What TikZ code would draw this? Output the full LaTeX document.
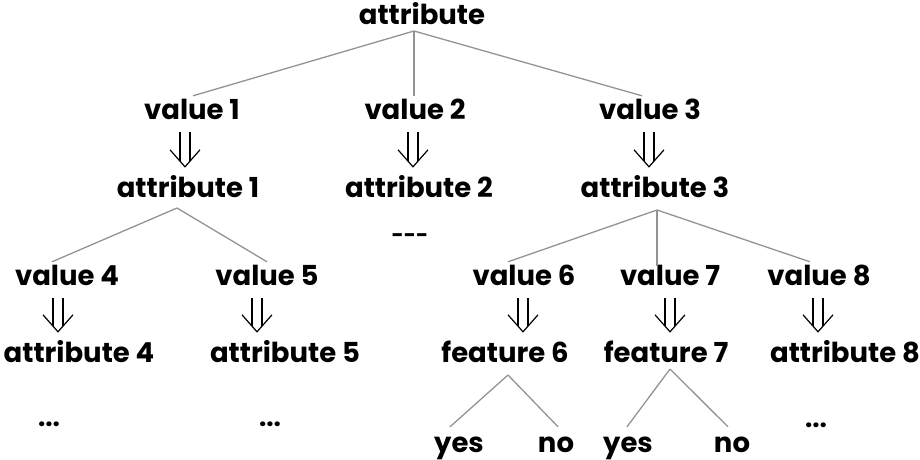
\documentclass[tikz,border=0pt]{standalone}
\usepackage{fontspec}
\setmainfont{Poppins}
\begin{document}
\begin{tikzpicture}[x=1pt,y=-1pt,
  lbl/.style={inner sep=0pt,anchor=base,text height=19pt,text depth=0pt,
    font=\fontsize{27.5}{30}\selectfont\bfseries},
  dots/.style={inner sep=0pt,font=\fontsize{26}{30}\selectfont\bfseries},
  dashes/.style={inner sep=0pt,font=\fontsize{21}{24}\selectfont\bfseries},
  branch/.style={draw=gray!85,line width=1.3pt},
  imp/.style={draw=black,line width=1.2pt}]
\useasboundingbox (0,0) rectangle (920,460);

% double-shafted downward arrow from one node to the next
\newcommand\dnimp[3]{%
  \coordinate (imp-t) at ([xshift=#1pt,yshift=-13pt]#2.south);
  \coordinate (imp-b0) at (imp-t |- #3.north);
  \coordinate (imp-b) at ([yshift=11pt]imp-b0);
  \draw[imp] ([xshift=-5pt]imp-t) -- ([xshift=-5pt,yshift=5.7pt]imp-b);
  \draw[imp] ([xshift=5pt]imp-t) -- ([xshift=5pt,yshift=5.7pt]imp-b);
  \draw[imp,line join=miter] ([xshift=-15pt,yshift=17pt]imp-b) -- (imp-b) -- ([xshift=15pt,yshift=17pt]imp-b);
}

% nodes
\node[lbl] (root) at (422,25) {attribute};
\node[lbl] (v1) at (192,119) {value 1};
\node[lbl] (v2) at (415,119) {value 2};
\node[lbl] (v3) at (650,119) {value 3};
\node[lbl] (a1) at (188,197) {attribute 1};
\node[lbl] (a2) at (419,197) {attribute 2};
\node[lbl] (a3) at (655,197) {attribute 3};
\node[dashes] (gap) at (410,238) {-{}-{}-};
\node[lbl] (v4) at (67,285) {value 4};
\node[lbl] (v5) at (267,285) {value 5};
\node[lbl] (v6) at (524,285) {value 6};
\node[lbl] (v7) at (670,285) {value 7};
\node[lbl] (v8) at (819,285) {value 8};
\node[lbl] (a4) at (79,362) {attribute 4};
\node[lbl] (a5) at (285,362) {attribute 5};
\node[lbl] (f6) at (505,362) {feature 6};
\node[lbl] (f7) at (666,362) {feature 7};
\node[lbl] (a8) at (845,362) {attribute 8};
\node[dots] (d4) at (49,424) {...};
\node[dots] (d5) at (270,424) {...};
\node[dots] (d8) at (816,425) {...};
\node[lbl] (y6) at (459,452) {yes};
\node[lbl] (n6) at (556,452) {no};
\node[lbl] (y7) at (628,452) {yes};
\node[lbl] (n7) at (732,452) {no};

% branch points
\coordinate (j0) at (414,31);
\coordinate (j1) at (177,208);
\coordinate (j3) at (657,210);
\coordinate (j6) at (508,375);
\coordinate (j7) at (670,369);

% branches
\draw[branch] (j0) -- ([xshift=1pt,yshift=4pt]v1.north);
\draw[branch] (j0) -- ([xshift=-1pt,yshift=4pt]v2.north);
\draw[branch] (j0) -- ([xshift=-8pt,yshift=4pt]v3.north);
\draw[branch] (j1) -- ([xshift=-15pt,yshift=4pt]v4.north);
\draw[branch] (j1) -- ([yshift=4pt]v5.north);
\draw[branch] (j3) -- ([xshift=-16pt,yshift=4pt]v6.north);
\draw[branch] (j3) -- (j3 |- v7.north) -- +(0,-4);
\draw[branch] (j3) -- ([xshift=-9pt,yshift=4pt]v8.north);
\draw[branch] (j6) -- ([xshift=-9pt,yshift=6pt]y6.north);
\draw[branch] (j6) -- ([xshift=2pt,yshift=6pt]n6.north);
\draw[branch] (j7) -- ([xshift=-1pt,yshift=6pt]y7.north);
\draw[branch] (j7) -- ([xshift=-4pt,yshift=6pt]n7.north);

% value-to-attribute arrows
\dnimp{-7}{v1}{a1}
\dnimp{-2}{v2}{a2}
\dnimp{-1}{v3}{a3}
\dnimp{-9}{v4}{a4}
\dnimp{-10}{v5}{a5}
\dnimp{-1}{v6}{f6}
\dnimp{0}{v7}{f7}
\dnimp{-1}{v8}{a8}
\end{tikzpicture}
\end{document}
